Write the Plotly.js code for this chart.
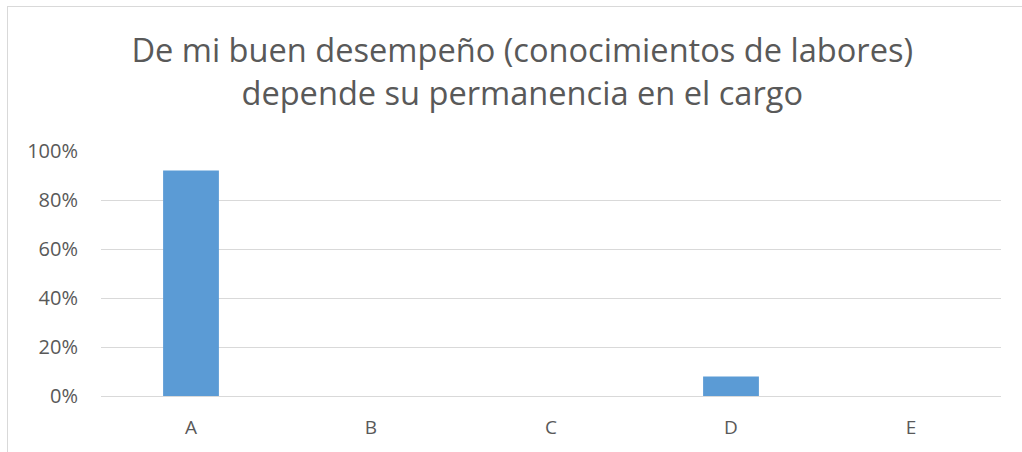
<!DOCTYPE html>
<html>
<head>
<meta charset="utf-8">
<script src="https://cdn.plot.ly/plotly-3.0.1.min.js"></script>
<style>
html,body{margin:0;padding:0;background:#fff;overflow:hidden;}
#chart{position:absolute;left:0;top:0;width:1022px;height:452px;}
#frame{position:absolute;left:7px;top:6px;width:1100px;height:500px;border:1px solid #D9D9D9;pointer-events:none;}
</style>
</head>
<body>
<div id="chart"></div>
<div id="frame"></div>
<script>
const categories = ["A", "B", "C", "D", "E"];
const values = [92, 0, 0, 8, 0];
const titleLines = ["De mi buen desempeño (conocimientos de labores)", "depende su permanencia en el cargo"];

const data = [{
  type: "bar",
  x: categories,
  y: values,
  marker: {color: "#5B9BD5"},
  hoverinfo: "x+y"
}];

const layout = {
  width: 1022,
  height: 452,
  margin: {l: 101, r: 21, t: 151, b: 56},
  paper_bgcolor: "rgba(0,0,0,0)",
  plot_bgcolor: "rgba(0,0,0,0)",
  bargap: 0.69,
  showlegend: false,
  font: {family: "Open Sans, sans-serif", color: "#595959", size: 20},
  title: {
    text: titleLines.join("<br>"),
    font: {family: "Open Sans, sans-serif", size: 32.6, color: "#595959"},
    x: 0.511, xanchor: "center",
    y: 0.862, yanchor: "top",
    xref: "container", yref: "container"
  },
  xaxis: {
    type: "category",
    showgrid: false,
    showline: false,
    zeroline: false,
    ticks: "",
    ticklabelstandoff: 18,
    tickfont: {size: 19, color: "#595959"},
    fixedrange: true
  },
  yaxis: {
    range: [0, 100],
    dtick: 20,
    tick0: 0,
    ticksuffix: "%",
    showgrid: true,
    gridcolor: "#D9D9D9",
    gridwidth: 1,
    zeroline: true,
    zerolinecolor: "#D9D9D9",
    zerolinewidth: 1,
    showline: false,
    ticks: "",
    ticklabelstandoff: 22,
    tickfont: {size: 20, color: "#595959"},
    fixedrange: true
  }
};

Plotly.newPlot("chart", data, layout, {displayModeBar: false, staticPlot: true});
</script>
</body>
</html>
